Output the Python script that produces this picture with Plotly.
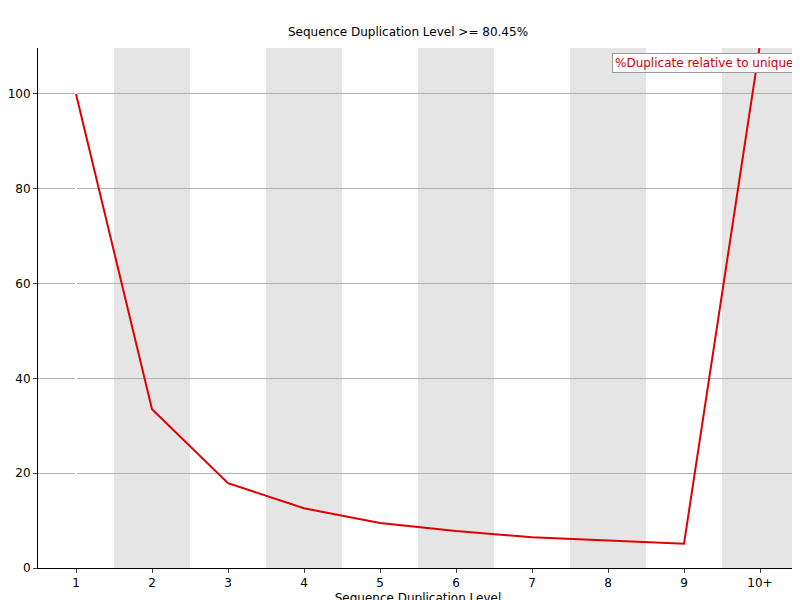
import plotly.graph_objects as go

levels = ["1", "2", "3", "4", "5", "6", "7", "8", "9", "10+"]
pct_dup = [100.0, 33.5, 17.9, 12.6, 9.5, 7.8, 6.5, 5.8, 5.1, 110.5]

fig = go.Figure()

# alternating grey bands behind every other category
for i in range(1, len(levels), 2):
    fig.add_shape(type="rect", xref="x", yref="paper", x0=i - 0.5, x1=i + 0.5,
                  y0=0, y1=1, fillcolor="#e5e5e5", line_width=0, layer="below")

fig.add_trace(go.Scatter(x=list(range(len(levels))), y=pct_dup, mode="lines",
                         line=dict(color="#e00000", width=2), showlegend=False))

# legend box as an annotation (text only, like the original)
fig.add_annotation(text="%Duplicate relative to unique", xref="paper", yref="paper",
                   x=0.998, y=0.99, xanchor="right", yanchor="top", showarrow=False,
                   font=dict(color="#cc0000", size=12), bgcolor="white",
                   bordercolor="#999", borderwidth=1, borderpad=2)

fig.update_layout(
    width=800, height=600,
    margin=dict(l=30, r=10, t=40, b=40),
    plot_bgcolor="white", paper_bgcolor="white",
    font=dict(family="DejaVu Sans", size=12, color="black"),
    title=dict(text="Sequence Duplication Level >= 80.45%", x=0.5, y=0.96,
               xanchor="center", yanchor="middle", font=dict(size=12), automargin=False),
    xaxis=dict(tickmode="array", tickvals=list(range(len(levels))), ticktext=levels,
               range=[-0.5, len(levels) - 0.5], showgrid=False, showline=True,
               linecolor="black", ticks="outside", ticklen=4, automargin=False,
               tickfont=dict(size=12),
               title=dict(text="Sequence Duplication Level", standoff=4, font=dict(size=12))),
    yaxis=dict(range=[0, 109.7], dtick=20, showgrid=True, gridcolor="#b0b0b0",
               showline=True, linecolor="black", ticks="outside", ticklen=4,
               zeroline=False, automargin=False, tickfont=dict(size=12)),
)

fig.write_html("out.html")
